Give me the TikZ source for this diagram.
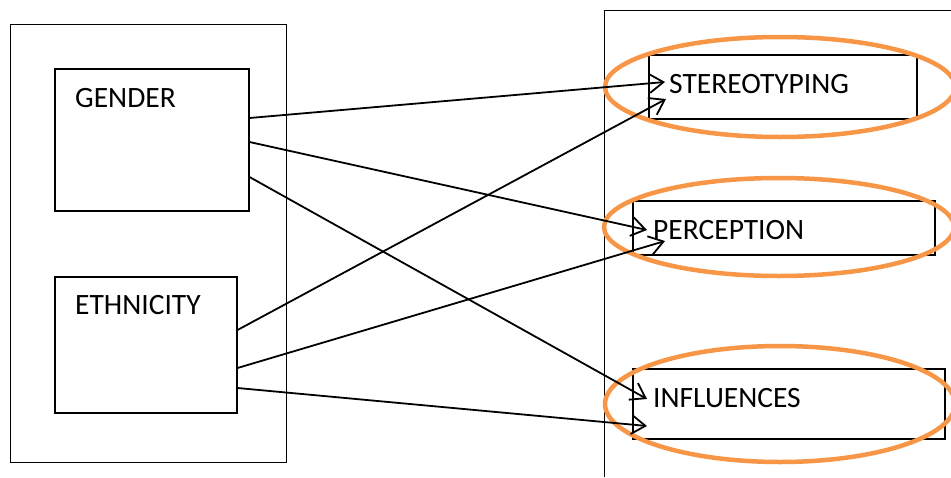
\documentclass[tikz,border=0pt]{standalone}
\usepackage{fontspec}
\setmainfont{Carlito}
\usetikzlibrary{arrows.meta,calc,shapes.geometric}
\definecolor{ringorange}{HTML}{F79646}
\begin{document}
\begin{tikzpicture}[x=1pt,y=-1pt,
  frame/.style={draw, line width=0.9pt, inner sep=0pt, anchor=north west},
  varbox/.style={draw, line width=1.5pt, inner sep=0pt, anchor=north west},
  ring/.style={draw=ringorange, line width=4.5pt, ellipse, inner sep=0pt},
  lbl/.style={anchor=base west, inner sep=0pt, font=\fontsize{29.5}{32}\selectfont},
  link/.style={line width=1.8pt, -{Straight Barb[length=14pt,width=19pt]}}]
\useasboundingbox (0,0) rectangle (951,477);

% left frame holding the two independent variables
\node[frame, minimum width=276pt, minimum height=438pt] (leftframe) at (10,24) {};
\node[varbox, minimum width=194pt, minimum height=142pt] (gender) at (54,68) {};
\node[varbox, minimum width=182pt, minimum height=136pt] (ethnicity) at (54,276) {};
\node[lbl] (tgender) at (75,107) {GENDER};
\node[lbl] (tethnicity) at (75,314) {ETHNICITY};

% right frame, running off the page
\draw[line width=0.9pt] (951,10) -- (604,10) -- (604,477);

% outcome boxes
\node[varbox, minimum width=268pt, minimum height=64pt] (stereo) at (648,54) {};
\node[varbox, minimum width=302pt, minimum height=54pt] (percep) at (632,200) {};
\node[varbox, minimum width=312pt, minimum height=70pt] (influ) at (632,368) {};
\node[lbl] (tstereo) at (669,93) {STEREOTYPING};
\node[lbl] (tpercep) at (653,239) {PERCEPTION};
\node[lbl] (tinflu) at (653,407) {INFLUENCES};

% orange highlight rings
\node[ring, minimum width=350pt, minimum height=100pt] (rstereo) at (780,87) {};
\node[ring, minimum width=350pt, minimum height=98pt] (rpercep) at (779,227) {};
\node[ring, minimum width=350pt, minimum height=116pt] (rinflu) at (780,404) {};

% arrow start points on the variable boxes
\coordinate (g1) at ($(gender.north east)+(0,50)$);
\coordinate (g2) at ($(gender.north east)+(0,74)$);
\coordinate (g3) at ($(gender.north east)+(0,109)$);
\coordinate (e1) at ($(ethnicity.north east)+(0,54)$);
\coordinate (e2) at ($(ethnicity.north east)+(0,92)$);
\coordinate (e3) at ($(ethnicity.north east)+(0,112)$);

% arrow end points inside the outcome boxes
\coordinate (s1) at ($(stereo.north west)+(17,28)$);
\coordinate (s2) at ($(stereo.north west)+(18,45)$);
\coordinate (p1) at ($(percep.north west)+(15,30)$);
\coordinate (p2) at ($(percep.north west)+(33,41)$);
\coordinate (i1) at ($(influ.north west)+(15,31)$);
\coordinate (i2) at ($(influ.north west)+(15,58)$);

% effects
\draw[link] (g1) -- (s1);
\draw[link] (g2) -- (p1);
\draw[link] (g3) -- (i1);
\draw[link] (e1) -- (s2);
\draw[link] (e2) -- (p2);
\draw[link] (e3) -- (i2);
\end{tikzpicture}
\end{document}
